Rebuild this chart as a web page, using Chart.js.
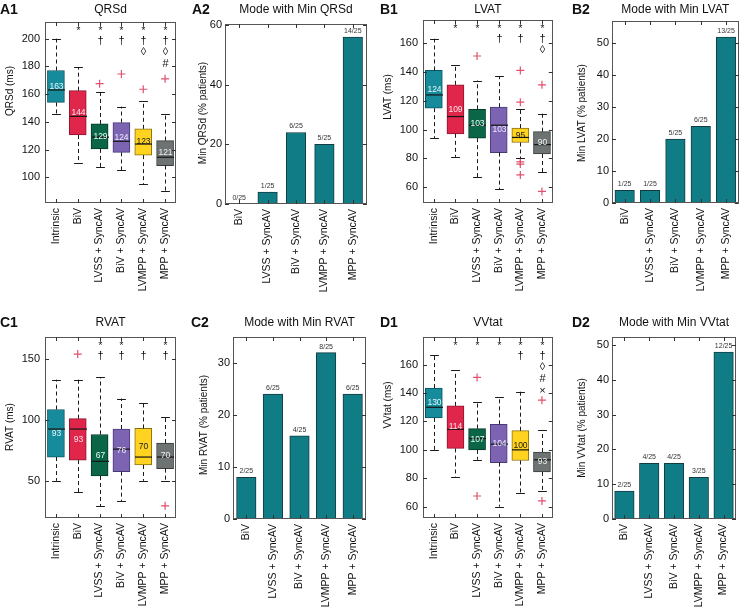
<!DOCTYPE html>
<html><head><meta charset="utf-8">
<script src="https://cdn.jsdelivr.net/npm/chart.js@4.4.1/dist/chart.umd.min.js"></script>
<style>
html,body{margin:0;padding:0;background:#fff;}
#wrap{position:relative;width:744px;height:609px;overflow:hidden;background:#fff;}
canvas{position:absolute;}
</style></head><body><div id="wrap"></div>
<script>
// ---------- data ----------
const boxCategories = ['Intrinsic','BiV','LVSS + SyncAV','BiV + SyncAV','LVMPP + SyncAV','MPP + SyncAV'];
const barCategories = ['BiV','LVSS + SyncAV','BiV + SyncAV','LVMPP + SyncAV','MPP + SyncAV'];

// QRSd (ms)
const qrsdLow    = [146, 110, 107.5, 105, 95, 90];
const qrsdQ1     = [154, 130.5, 120.5, 118, 116, 108.5];
const qrsdMedian = [163, 144, 129, 126, 124, 114.5];
const qrsdQ3     = [177, 162.5, 138.5, 139.5, 135, 126.5];
const qrsdHigh   = [200, 179.5, 161.5, 151, 155, 145.5];
const qrsdMean   = [163, 144, 129, 124, 123, 121];
const qrsdOutliers = [[2,167.5],[3,174.5],[4,163.5],[5,171]];
const qrsdSig    = ['', '*', '*†', '*†', '*†◊', '*†◊#'];
const qrsdTicks  = [100,120,140,160,180,200];

// LVAT (ms)
const lvatLow    = [94, 81, 67, 58.5, 80, 70.5];
const lvatQ1     = [114.8, 97, 94, 84, 91, 83];
const lvatMedian = [124, 109, 103, 103, 94.5, 89.5];
const lvatQ3     = [141, 131, 114, 115.5, 101, 98.5];
const lvatHigh   = [163, 145, 134, 137, 114.5, 111];
const lvatMean   = [124, 109, 103, 103, 95, 90];
const lvatOutliers = [[2,151],[4,141],[4,119],[4,77.5],[4,76],[4,68.5],[5,131],[5,57]];
const lvatSig    = ['', '*', '*', '*†', '*†', '*†◊'];
const lvatTicks  = [60,80,100,120,140,160];

// RVAT (ms)
const rvatLow    = [50, 40.5, 29, 33.5, 50, 50];
const rvatQ1     = [69.5, 67, 54, 57.5, 63, 60];
const rvatMedian = [92.5, 92.5, 66, 76, 69.5, 69.5];
const rvatQ3     = [108.5, 101, 88, 92.5, 93, 81];
const rvatHigh   = [133, 133, 135, 117.5, 114, 102.5];
const rvatMean   = [93, 93, 67, 76, 70, 70];
const rvatOutliers = [[1,154],[5,29.5]];
const rvatSig    = ['', '', '*†', '*†', '†', '*†'];
const rvatTicks  = [50,100,150];

// VVtat (ms)
const vvLow    = [100, 81, 93, 60, 69.5, 71];
const vvQ1     = [122.5, 101, 100, 91, 92.5, 84.5];
const vvMedian = [130, 114.5, 108, 104, 100, 93];
const vvQ3     = [143.5, 131, 115, 118, 113.5, 98.5];
const vvHigh   = [167, 156, 134, 137, 141, 114];
const vvMean   = [130, 114, 107, 104, 100, 93];
const vvOutliers = [[2,151],[2,67.5],[5,135],[5,64]];
const vvSig    = ['', '*', '*', '*', '*†', '*†◊#×'];
const vvTicks  = [60,80,100,120,140,160];

// Mode with minimum value (% patients) and count labels
const minQrsdPct = [0, 4, 24, 20, 56];
const minQrsdLbl = ['0/25','1/25','6/25','5/25','14/25'];
const minLvatPct = [4, 4, 20, 24, 52];
const minLvatLbl = ['1/25','1/25','5/25','6/25','13/25'];
const minRvatPct = [8, 24, 16, 32, 24];
const minRvatLbl = ['2/25','6/25','4/25','8/25','6/25'];
const minVvPct   = [8, 16, 16, 12, 48];
const minVvLbl   = ['2/25','4/25','4/25','3/25','12/25'];

// ---------- style ----------
const FONT = '"Liberation Sans", Arial, Helvetica, sans-serif';
Chart.defaults.font.family = FONT;
Chart.defaults.color = '#1a1a1a';
const boxFill  = ['#168b9b','#e0264b','#0b6547','#7c64b3','#ffd31f','#6d7272'];
const boxEdge  = ['#0c5560','#8a1630','#053a28','#483a78','#8a7010','#3a3d3d'];
const meanText = ['#e4f9fd','#ffe4ea','#e6fff3','#eeeaff','#1a1a1a','#f0f0f0'];
const barFill = '#0f7c86', barEdge = '#123c40';
const sigRow = {'*':0,'†':1,'◊':2,'#':3,'×':4};

const wrap = document.getElementById('wrap');
function makeCanvas(cell){
  const c = document.createElement('canvas');
  c.width = cell[2]; c.height = cell[3];
  c.style.left = cell[0]+'px'; c.style.top = cell[1]+'px';
  c.style.width = cell[2]+'px'; c.style.height = cell[3]+'px';
  wrap.appendChild(c); return c;
}
function seg(ctx,x1,y1,x2,y2){ctx.beginPath();ctx.moveTo(x1,y1);ctx.lineTo(x2,y2);ctx.stroke();}

function decorate(chart, cfg){
  const ctx = chart.ctx, a = chart.chartArea, xs = chart.scales.x, ys = chart.scales.y;
  const [cx, cy] = cfg.cell;
  ctx.save();
  ctx.strokeStyle = '#555'; ctx.lineWidth = 1;
  ctx.strokeRect(Math.round(a.left)+0.5, Math.round(a.top)+0.5, Math.round(a.right-a.left)-1, Math.round(a.bottom-a.top)-1);
  ctx.strokeStyle = '#333';
  ys.ticks.forEach(t => {
    const y = Math.round(ys.getPixelForValue(t.value))+0.5;
    seg(ctx, a.left, y, a.left+4, y);
    seg(ctx, a.right-4, y, a.right, y);
  });
  xs.ticks.forEach((t,i) => {
    const x = Math.round(xs.getPixelForValue(i))+0.5;
    seg(ctx, x, a.top, x, a.top+4);
    seg(ctx, x, a.bottom-4, x, a.bottom);
  });
  ctx.fillStyle = '#111';
  ctx.textBaseline = 'middle';
  ctx.textAlign = 'center';
  ctx.font = '12px '+FONT;
  ctx.fillText(cfg.title, (a.left+a.right)/2, cfg.titleY - cy);
  ctx.textAlign = 'left';
  ctx.font = 'bold 14px '+FONT;
  ctx.fillText(cfg.letter, cfg.letterX - cx, cfg.titleY - cy);
  // y-axis title
  ctx.save();
  ctx.translate(cfg.yTitleX - cx, cfg.yTitleY - cy);
  ctx.rotate(-Math.PI/2);
  ctx.textAlign = 'center'; ctx.textBaseline = 'middle';
  ctx.font = '10px '+FONT;
  ctx.fillText(cfg.yTitle, 0, 0);
  ctx.restore();
  ctx.restore();
}

function baseOptions(cfg){
  const [cx, cy, cw, ch] = cfg.cell;
  const [L, T, R, B] = cfg.plot;
  return {
    responsive:false, animation:false, devicePixelRatio:1,
    layout:{padding:{left:0, top:T-cy, right:cx+cw-R, bottom:0}},
    plugins:{legend:{display:false}, tooltip:{enabled:false}, title:{display:false}},
    scales:{
      x:{ type:'category', offset:true, grid:{display:false, drawTicks:false}, border:{display:false},
          ticks:{autoSkip:false, minRotation:90, maxRotation:90, padding:5, color:'#111', font:{size:10.5}},
          afterFit(s){ s.height = cy+ch-B; } },
      y:{ min:cfg.yMin, max:cfg.yMax, grid:{display:false, drawTicks:false}, border:{display:false},
          afterBuildTicks(s){ s.ticks = cfg.ticks.map(v => ({value:v})); },
          ticks:{padding:cfg.tickPad, color:'#111', font:{size:11}},
          title:{display:false},
          afterFit(s){ s.width = L - cx; } }
    }
  };
}

function boxPanel(cfg){
  const s = cfg.stats;
  cfg.tickPad = 5;
  const canvas = makeCanvas(cfg.cell);
  const plugin = {
    id:'box'+cfg.letter,
    afterDatasetsDraw(chart){
      const ctx = chart.ctx, xs = chart.scales.x, ys = chart.scales.y, a = chart.chartArea;
      const meta = chart.getDatasetMeta(0);
      const py = v => ys.getPixelForValue(v);
      ctx.save();
      s.q1.forEach((q1,i) => {
        const x = Math.round(xs.getPixelForValue(i))+0.5;
        const bw = meta.data[i].width;
        ctx.strokeStyle = '#1a1a1a'; ctx.lineWidth = 1;
        ctx.setLineDash([4,3]);
        seg(ctx, x, py(s.q3[i]), x, py(s.high[i]));
        seg(ctx, x, py(q1), x, py(s.low[i]));
        ctx.setLineDash([]);
        const cap = bw*0.26;
        seg(ctx, x-cap, Math.round(py(s.high[i]))+0.5, x+cap, Math.round(py(s.high[i]))+0.5);
        seg(ctx, x-cap, Math.round(py(s.low[i]))+0.5, x+cap, Math.round(py(s.low[i]))+0.5);
        ctx.strokeStyle = '#141414'; ctx.lineWidth = 1.2;
        seg(ctx, x-bw/2, py(s.med[i]), x+bw/2, py(s.med[i]));
        ctx.fillStyle = meanText[i];
        ctx.font = '8.5px '+FONT; ctx.textAlign='center'; ctx.textBaseline='middle';
        ctx.fillText(String(s.mean[i]), x, (py(q1)+py(s.q3[i]))/2);
        ctx.fillStyle = '#111';
        for (const ch of s.sig[i]) {
          const row = sigRow[ch];
          const y = a.top + 7 + row*11.7;
          if (ch === '*') { ctx.font = '10px '+FONT; ctx.fillText(ch, x, y+2); }
          else { ctx.font = '11px '+FONT; ctx.fillText(ch, x, y); }
        }
      });
      ctx.restore();
    },
    afterDraw(chart){ decorate(chart, cfg); }
  };
  new Chart(canvas, {
    type:'bar',
    data:{
      labels: boxCategories,
      datasets:[
        { type:'bar', data: s.q1.map((v,i)=>[v, s.q3[i]]), backgroundColor: boxFill, borderColor: boxEdge,
          borderWidth:1, borderSkipped:false, barThickness:17 },
        { type:'line', data: s.out.map(o => ({x: boxCategories[o[0]], y: o[1]})), showLine:false,
          pointStyle:'cross', pointRadius:4, pointBorderColor:'#e2506c', pointBorderWidth:1.2,
          pointBackgroundColor:'rgba(0,0,0,0)' }
      ]
    },
    options: baseOptions(cfg),
    plugins:[plugin]
  });
}

function barPanel(cfg){
  cfg.tickPad = 3;
  const canvas = makeCanvas(cfg.cell);
  const plugin = {
    id:'bar'+cfg.letter,
    afterDatasetsDraw(chart){
      const ctx = chart.ctx, meta = chart.getDatasetMeta(0);
      ctx.save();
      ctx.fillStyle = '#333'; ctx.font = '7px '+FONT; ctx.textAlign='center'; ctx.textBaseline='bottom';
      meta.data.forEach((el,i) => ctx.fillText(cfg.labels[i], el.x, el.y - 2.5));
      ctx.restore();
    },
    afterDraw(chart){ decorate(chart, cfg); }
  };
  new Chart(canvas, {
    type:'bar',
    data:{ labels: barCategories,
      datasets:[{ data: cfg.values, backgroundColor: barFill, borderColor: barEdge, borderWidth:1,
                  borderSkipped:'bottom', barThickness:19.5 }] },
    options: baseOptions(cfg),
    plugins:[plugin]
  });
}

// ---------- panels ----------
boxPanel({letter:'A1', title:'QRSd', yTitle:'QRSd (ms)', cell:[0,0,190,300], plot:[45,22,176,203],
  yMin:81.5, yMax:212, ticks:qrsdTicks, yTitleX:10, yTitleY:91, titleY:10, letterX:0,
  stats:{low:qrsdLow,q1:qrsdQ1,med:qrsdMedian,q3:qrsdQ3,high:qrsdHigh,mean:qrsdMean,out:qrsdOutliers,sig:qrsdSig}});
barPanel({letter:'A2', title:'Mode with Min QRSd', yTitle:'Min QRSd (% patients)', cell:[185,0,190,300], plot:[225,24,367,204],
  yMin:0, yMax:60.4, ticks:[0,20,40,60], yTitleX:203, yTitleY:113, titleY:10, letterX:192, values:minQrsdPct, labels:minQrsdLbl});
boxPanel({letter:'B1', title:'LVAT', yTitle:'LVAT (ms)', cell:[370,0,190,300], plot:[423,20,555,203],
  yMin:49, yMax:176, ticks:lvatTicks, yTitleX:388, yTitleY:97, titleY:10, letterX:380,
  stats:{low:lvatLow,q1:lvatQ1,med:lvatMedian,q3:lvatQ3,high:lvatHigh,mean:lvatMean,out:lvatOutliers,sig:lvatSig}});
barPanel({letter:'B2', title:'Mode with Min LVAT', yTitle:'Min LVAT (% patients)', cell:[555,0,189,300], plot:[612,21,741,203],
  yMin:0, yMax:57, ticks:[0,10,20,30,40,50], yTitleX:582, yTitleY:113, titleY:10, letterX:572, values:minLvatPct, labels:minLvatLbl});
boxPanel({letter:'C1', title:'RVAT', yTitle:'RVAT (ms)', cell:[0,305,190,304], plot:[45,337,176,518],
  yMin:19.5, yMax:168, ticks:rvatTicks, yTitleX:10, yTitleY:427, titleY:323, letterX:0,
  stats:{low:rvatLow,q1:rvatQ1,med:rvatMedian,q3:rvatQ3,high:rvatHigh,mean:rvatMean,out:rvatOutliers,sig:rvatSig}});
barPanel({letter:'C2', title:'Mode with Min RVAT', yTitle:'Min RVAT (% patients)', cell:[185,305,190,304], plot:[233,337,366,519],
  yMin:0, yMax:35, ticks:[0,10,20,30], yTitleX:204, yTitleY:425, titleY:323, letterX:191, values:minRvatPct, labels:minRvatLbl});
boxPanel({letter:'D1', title:'VVtat', yTitle:'VVtat (ms)', cell:[370,305,190,304], plot:[423,337,555,518],
  yMin:52, yMax:179.5, ticks:vvTicks, yTitleX:388, yTitleY:405, titleY:323, letterX:380,
  stats:{low:vvLow,q1:vvQ1,med:vvMedian,q3:vvQ3,high:vvHigh,mean:vvMean,out:vvOutliers,sig:vvSig}});
barPanel({letter:'D2', title:'Mode with Min VVtat', yTitle:'Min VVtat (% patients)', cell:[555,305,189,304], plot:[612,337,736,519],
  yMin:0, yMax:52.3, ticks:[0,10,20,30,40,50], yTitleX:582, yTitleY:428, titleY:323, letterX:572, values:minVvPct, labels:minVvLbl});
</script></body></html>
